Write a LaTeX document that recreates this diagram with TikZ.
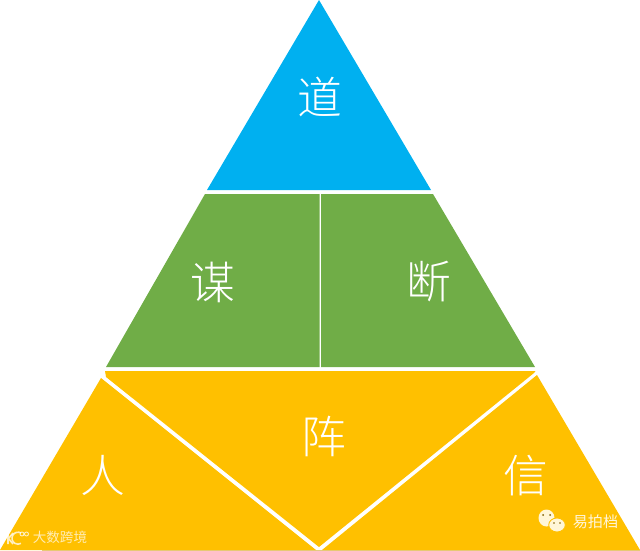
\documentclass[tikz,border=0pt]{standalone}
\usepackage{fontspec}
\newfontfamily\cjk{Noto Sans CJK SC}[UprightFont=* Light]
\newfontfamily\cjkmark{Noto Sans CJK SC}
\definecolor{topblue}{HTML}{00B0F0}
\definecolor{midgreen}{HTML}{70AD47}
\definecolor{lowyellow}{HTML}{FFC000}
\definecolor{basetan}{HTML}{E3CB85}
\definecolor{bubble}{HTML}{FFF6D8}
\tikzset{
  word/.style={text=white, font=\cjk\fontsize{25.5}{26}\selectfont, inner sep=0pt},
  wmark/.style={text=white, opacity=0.7, inner sep=0pt, font=\cjkmark\fontsize{7.7}{8}\selectfont},
  wline/.style={draw=white, opacity=0.75, line width=0.5pt},
}
\begin{document}
\begin{tikzpicture}[x=0.02cm, y=-0.02cm]
  \useasboundingbox (0,0) rectangle (640,551);
  \fill[basetan] (42,549.5) rectangle (640,551);
  \fill[topblue] (319,0) -- (431,190) -- (207,190) -- cycle;
  \fill[midgreen] (205,194) -- (319.5,194) -- (319.5,367) -- (106,367) -- cycle;
  \fill[midgreen] (321,194) -- (433,194) -- (535,367) -- (321,367) -- cycle;
  \fill[lowyellow] (105,371) -- (535.5,371) -- (534,373) -- (319,547) -- (106,377) -- cycle;
  \fill[lowyellow] (101,378) -- (316,550) -- (0,550) -- cycle;
  \fill[lowyellow] (537,375) -- (640,550) -- (322,550) -- cycle;
  \node[word] (dao) at (319.5,97) {道};
  \node[word] (mou) at (213,282) {谋};
  \node[word] (duan) at (429,282) {断};
  \node[word] (zhen) at (323.5,436.5) {阵};
  \node[word] (ren) at (103,475.5) {人};
  \node[word] (xin) at (526,476) {信};
  % watermarks
  \node[wmark] (dashu) at (60,537.5) {大数跨境};
  \draw[wline, line width=0.9pt] (8,532) -- (8,544) (13,533) -- (8.5,538.5) -- (13,544);
  \draw[wline, line width=0.9pt] (21,533) arc[start angle=300, end angle=60, radius=6];
  \draw[wline] (22,534) circle (2) (26.5,534) circle (2);
  \fill[bubble] (546.5,518) ellipse (8 and 8.5);
  \filldraw[fill=bubble, draw=lowyellow, line width=0.5pt] (557,525) ellipse (8.3 and 7);
  \fill[lowyellow!50!black] (543,515) circle (1) (550,515) circle (1) (554,523) circle (0.9) (560,523) circle (0.9);
  \node[wmark, opacity=0.85, font=\cjkmark\fontsize{8.6}{9}\selectfont] (yipai) at (595.5,522) {易拍档};
\end{tikzpicture}
\end{document}
